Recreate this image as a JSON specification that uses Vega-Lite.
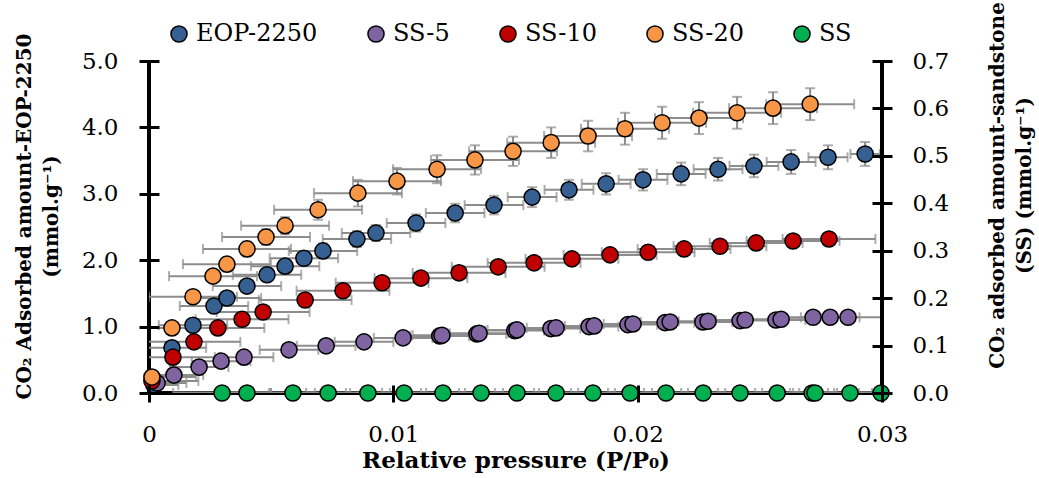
{
  "$schema": "https://vega.github.io/schema/vega-lite/v6.json",
  "width": 733,
  "height": 332,
  "autosize": "none",
  "padding": {"left": 149, "top": 61, "right": 157, "bottom": 85},
  "background": "white",
  "config": {
    "view": {"stroke": null},
    "font": "DejaVu Serif",
    "axis": {
      "labelFont": "DejaVu Serif", "titleFont": "DejaVu Serif",
      "labelFontSize": 23, "labelColor": "black", "titleColor": "black",
      "titleFontSize": 20, "titleFontWeight": "bold",
      "tickColor": "black", "tickWidth": 3, "grid": false, "labelOverlap": false, "labelFlush": false,
      "zindex": 1
    }
  },
  "datasets": {
    "pts": [
      {"s": "EOP-2250", "x": 0.0002, "y": 0.12, "ex": 0.0010, "ey": 0.02},
      {"s": "EOP-2250", "x": 0.00094, "y": 0.68, "ex": 0.0014, "ey": 0.04},
      {"s": "EOP-2250", "x": 0.0018, "y": 1.02, "ex": 0.0014, "ey": 0.05},
      {"s": "EOP-2250", "x": 0.00266, "y": 1.31, "ex": 0.0014, "ey": 0.06},
      {"s": "EOP-2250", "x": 0.00319, "y": 1.43, "ex": 0.0014, "ey": 0.07},
      {"s": "EOP-2250", "x": 0.00401, "y": 1.61, "ex": 0.0014, "ey": 0.08},
      {"s": "EOP-2250", "x": 0.00483, "y": 1.78, "ex": 0.0014, "ey": 0.09},
      {"s": "EOP-2250", "x": 0.00557, "y": 1.91, "ex": 0.0014, "ey": 0.10},
      {"s": "EOP-2250", "x": 0.00634, "y": 2.03, "ex": 0.0014, "ey": 0.10},
      {"s": "EOP-2250", "x": 0.00712, "y": 2.14, "ex": 0.0014, "ey": 0.11},
      {"s": "EOP-2250", "x": 0.00851, "y": 2.32, "ex": 0.0014, "ey": 0.12},
      {"s": "EOP-2250", "x": 0.00929, "y": 2.41, "ex": 0.0014, "ey": 0.12},
      {"s": "EOP-2250", "x": 0.01093, "y": 2.56, "ex": 0.0012, "ey": 0.13},
      {"s": "EOP-2250", "x": 0.01253, "y": 2.71, "ex": 0.0012, "ey": 0.14},
      {"s": "EOP-2250", "x": 0.01412, "y": 2.83, "ex": 0.0012, "ey": 0.14},
      {"s": "EOP-2250", "x": 0.01568, "y": 2.95, "ex": 0.0010, "ey": 0.15},
      {"s": "EOP-2250", "x": 0.01719, "y": 3.06, "ex": 0.0010, "ey": 0.15},
      {"s": "EOP-2250", "x": 0.01871, "y": 3.15, "ex": 0.0010, "ey": 0.16},
      {"s": "EOP-2250", "x": 0.02022, "y": 3.21, "ex": 0.0010, "ey": 0.16},
      {"s": "EOP-2250", "x": 0.02178, "y": 3.30, "ex": 0.0010, "ey": 0.17},
      {"s": "EOP-2250", "x": 0.02329, "y": 3.37, "ex": 0.0010, "ey": 0.17},
      {"s": "EOP-2250", "x": 0.02476, "y": 3.42, "ex": 0.0010, "ey": 0.17},
      {"s": "EOP-2250", "x": 0.02628, "y": 3.48, "ex": 0.0010, "ey": 0.18},
      {"s": "EOP-2250", "x": 0.02779, "y": 3.55, "ex": 0.0008, "ey": 0.18},
      {"s": "EOP-2250", "x": 0.02931, "y": 3.60, "ex": 0.0006, "ey": 0.18},
      {"s": "SS-5", "x": 0.00033, "y": 0.15, "ex": 0.0012, "ey": 0.02},
      {"s": "SS-5", "x": 0.00102, "y": 0.27, "ex": 0.0012, "ey": 0.02},
      {"s": "SS-5", "x": 0.00205, "y": 0.39, "ex": 0.0012, "ey": 0.02},
      {"s": "SS-5", "x": 0.00295, "y": 0.48, "ex": 0.0012, "ey": 0.02},
      {"s": "SS-5", "x": 0.00389, "y": 0.54, "ex": 0.0012, "ey": 0.02},
      {"s": "SS-5", "x": 0.00573, "y": 0.65, "ex": 0.0012, "ey": 0.02},
      {"s": "SS-5", "x": 0.00725, "y": 0.71, "ex": 0.0012, "ey": 0.02},
      {"s": "SS-5", "x": 0.0088, "y": 0.77, "ex": 0.0012, "ey": 0.02},
      {"s": "SS-5", "x": 0.0104, "y": 0.83, "ex": 0.0012, "ey": 0.02},
      {"s": "SS-5", "x": 0.0119, "y": 0.86, "ex": 0.0012, "ey": 0.02},
      {"s": "SS-5", "x": 0.01199, "y": 0.87, "ex": 0.0012, "ey": 0.02},
      {"s": "SS-5", "x": 0.01342, "y": 0.89, "ex": 0.0012, "ey": 0.02},
      {"s": "SS-5", "x": 0.01351, "y": 0.90, "ex": 0.0012, "ey": 0.02},
      {"s": "SS-5", "x": 0.01497, "y": 0.94, "ex": 0.0012, "ey": 0.02},
      {"s": "SS-5", "x": 0.01506, "y": 0.95, "ex": 0.0012, "ey": 0.02},
      {"s": "SS-5", "x": 0.01645, "y": 0.97, "ex": 0.0012, "ey": 0.02},
      {"s": "SS-5", "x": 0.01666, "y": 0.98, "ex": 0.0012, "ey": 0.02},
      {"s": "SS-5", "x": 0.01801, "y": 1.00, "ex": 0.0012, "ey": 0.02},
      {"s": "SS-5", "x": 0.01822, "y": 1.01, "ex": 0.0012, "ey": 0.02},
      {"s": "SS-5", "x": 0.0196, "y": 1.03, "ex": 0.0012, "ey": 0.02},
      {"s": "SS-5", "x": 0.01981, "y": 1.04, "ex": 0.0012, "ey": 0.02},
      {"s": "SS-5", "x": 0.02112, "y": 1.06, "ex": 0.0012, "ey": 0.02},
      {"s": "SS-5", "x": 0.02133, "y": 1.07, "ex": 0.0012, "ey": 0.02},
      {"s": "SS-5", "x": 0.02267, "y": 1.07, "ex": 0.0012, "ey": 0.02},
      {"s": "SS-5", "x": 0.02288, "y": 1.08, "ex": 0.0012, "ey": 0.02},
      {"s": "SS-5", "x": 0.02419, "y": 1.09, "ex": 0.0012, "ey": 0.02},
      {"s": "SS-5", "x": 0.0244, "y": 1.10, "ex": 0.0012, "ey": 0.02},
      {"s": "SS-5", "x": 0.02566, "y": 1.10, "ex": 0.0012, "ey": 0.02},
      {"s": "SS-5", "x": 0.02587, "y": 1.11, "ex": 0.0012, "ey": 0.02},
      {"s": "SS-5", "x": 0.02718, "y": 1.14, "ex": 0.0012, "ey": 0.02},
      {"s": "SS-5", "x": 0.02788, "y": 1.14, "ex": 0.0012, "ey": 0.02},
      {"s": "SS-5", "x": 0.02861, "y": 1.14, "ex": 0.0014, "ey": 0.02},
      {"s": "SS-10", "x": 0.00012, "y": 0.18, "ex": 0.0019, "ey": 0.02},
      {"s": "SS-10", "x": 0.00098, "y": 0.54, "ex": 0.0019, "ey": 0.03},
      {"s": "SS-10", "x": 0.00184, "y": 0.77, "ex": 0.0019, "ey": 0.03},
      {"s": "SS-10", "x": 0.00282, "y": 0.98, "ex": 0.0019, "ey": 0.04},
      {"s": "SS-10", "x": 0.00381, "y": 1.11, "ex": 0.0019, "ey": 0.04},
      {"s": "SS-10", "x": 0.00467, "y": 1.22, "ex": 0.0019, "ey": 0.04},
      {"s": "SS-10", "x": 0.00639, "y": 1.40, "ex": 0.0019, "ey": 0.05},
      {"s": "SS-10", "x": 0.00794, "y": 1.54, "ex": 0.0019, "ey": 0.05},
      {"s": "SS-10", "x": 0.00954, "y": 1.66, "ex": 0.0019, "ey": 0.05},
      {"s": "SS-10", "x": 0.01113, "y": 1.73, "ex": 0.0019, "ey": 0.05},
      {"s": "SS-10", "x": 0.01269, "y": 1.81, "ex": 0.0019, "ey": 0.05},
      {"s": "SS-10", "x": 0.01429, "y": 1.90, "ex": 0.0019, "ey": 0.05},
      {"s": "SS-10", "x": 0.01576, "y": 1.96, "ex": 0.0019, "ey": 0.05},
      {"s": "SS-10", "x": 0.01731, "y": 2.02, "ex": 0.0019, "ey": 0.05},
      {"s": "SS-10", "x": 0.01887, "y": 2.08, "ex": 0.0019, "ey": 0.05},
      {"s": "SS-10", "x": 0.02043, "y": 2.12, "ex": 0.0019, "ey": 0.05},
      {"s": "SS-10", "x": 0.0219, "y": 2.17, "ex": 0.0019, "ey": 0.05},
      {"s": "SS-10", "x": 0.02337, "y": 2.21, "ex": 0.0019, "ey": 0.05},
      {"s": "SS-10", "x": 0.02485, "y": 2.26, "ex": 0.0019, "ey": 0.05},
      {"s": "SS-10", "x": 0.02636, "y": 2.29, "ex": 0.0019, "ey": 0.05},
      {"s": "SS-10", "x": 0.02783, "y": 2.32, "ex": 0.0019, "ey": 0.05},
      {"s": "SS-20", "x": 0.00012, "y": 0.24, "ex": 0.0018, "ey": 0.03},
      {"s": "SS-20", "x": 0.00094, "y": 0.98, "ex": 0.0018, "ey": 0.05},
      {"s": "SS-20", "x": 0.0018, "y": 1.45, "ex": 0.0018, "ey": 0.08},
      {"s": "SS-20", "x": 0.00262, "y": 1.76, "ex": 0.0018, "ey": 0.09},
      {"s": "SS-20", "x": 0.00319, "y": 1.94, "ex": 0.0018, "ey": 0.10},
      {"s": "SS-20", "x": 0.00401, "y": 2.17, "ex": 0.0018, "ey": 0.11},
      {"s": "SS-20", "x": 0.00479, "y": 2.35, "ex": 0.0018, "ey": 0.12},
      {"s": "SS-20", "x": 0.00557, "y": 2.52, "ex": 0.0018, "ey": 0.13},
      {"s": "SS-20", "x": 0.00692, "y": 2.76, "ex": 0.0018, "ey": 0.15},
      {"s": "SS-20", "x": 0.00855, "y": 3.01, "ex": 0.0018, "ey": 0.20},
      {"s": "SS-20", "x": 0.01015, "y": 3.19, "ex": 0.0018, "ey": 0.20},
      {"s": "SS-20", "x": 0.01179, "y": 3.37, "ex": 0.0018, "ey": 0.21},
      {"s": "SS-20", "x": 0.01334, "y": 3.51, "ex": 0.0018, "ey": 0.22},
      {"s": "SS-20", "x": 0.0149, "y": 3.64, "ex": 0.0018, "ey": 0.22},
      {"s": "SS-20", "x": 0.01646, "y": 3.77, "ex": 0.0018, "ey": 0.23},
      {"s": "SS-20", "x": 0.01797, "y": 3.87, "ex": 0.0018, "ey": 0.23},
      {"s": "SS-20", "x": 0.01948, "y": 3.98, "ex": 0.0018, "ey": 0.24},
      {"s": "SS-20", "x": 0.021, "y": 4.07, "ex": 0.0018, "ey": 0.24},
      {"s": "SS-20", "x": 0.02251, "y": 4.14, "ex": 0.0018, "ey": 0.24},
      {"s": "SS-20", "x": 0.02407, "y": 4.22, "ex": 0.0018, "ey": 0.24},
      {"s": "SS-20", "x": 0.02554, "y": 4.29, "ex": 0.0018, "ey": 0.24},
      {"s": "SS-20", "x": 0.02706, "y": 4.35, "ex": 0.0018, "ey": 0.24},
      {"s": "SS", "x": 0.00299, "y": 0, "ex": 0.002, "ey": 0},
      {"s": "SS", "x": 0.00401, "y": 0, "ex": 0.0009, "ey": 0},
      {"s": "SS", "x": 0.00589, "y": 0, "ex": 0.0009, "ey": 0},
      {"s": "SS", "x": 0.00733, "y": 0, "ex": 0.0009, "ey": 0},
      {"s": "SS", "x": 0.00896, "y": 0, "ex": 0.0009, "ey": 0},
      {"s": "SS", "x": 0.01044, "y": 0, "ex": 0.0009, "ey": 0},
      {"s": "SS", "x": 0.01203, "y": 0, "ex": 0.0009, "ey": 0},
      {"s": "SS", "x": 0.01359, "y": 0, "ex": 0.0009, "ey": 0},
      {"s": "SS", "x": 0.01506, "y": 0, "ex": 0.0009, "ey": 0},
      {"s": "SS", "x": 0.01666, "y": 0, "ex": 0.0009, "ey": 0},
      {"s": "SS", "x": 0.01817, "y": 0, "ex": 0.0009, "ey": 0},
      {"s": "SS", "x": 0.01969, "y": 0, "ex": 0.0009, "ey": 0},
      {"s": "SS", "x": 0.02116, "y": 0, "ex": 0.0009, "ey": 0},
      {"s": "SS", "x": 0.02268, "y": 0, "ex": 0.0009, "ey": 0},
      {"s": "SS", "x": 0.02419, "y": 0, "ex": 0.0009, "ey": 0},
      {"s": "SS", "x": 0.02571, "y": 0, "ex": 0.0009, "ey": 0},
      {"s": "SS", "x": 0.02714, "y": 0, "ex": 0.0009, "ey": 0},
      {"s": "SS", "x": 0.02726, "y": 0, "ex": 0.0009, "ey": 0},
      {"s": "SS", "x": 0.02869, "y": 0, "ex": 0.0009, "ey": 0},
      {"s": "SS", "x": 0.02996, "y": 0, "ex": 0.0009, "ey": 0}
    ]
  },
  "data": {"name": "pts"},
  "layer": [
    {
      "transform": [{"filter": "datum.s != 'SS'"}],
      "layer": [
        {
          "mark": {"type": "rule", "color": "black", "strokeWidth": 3},
          "encoding": {"x": {"datum": 0, "type": "quantitative", "title": "Relative pressure (P/P₀)"}}
        },
        {
          "mark": {"type": "rule", "color": "black", "strokeWidth": 3},
          "encoding": {"y": {"datum": 0, "type": "quantitative", "title": ["CO₂ Adsorbed amount-EOP-2250", "(mmol.g⁻¹)"]}}
        },
        {
          "mark": {"type": "errorbar", "ticks": {"size": 10, "thickness": 2}, "thickness": 2, "color": "#8c8c8c", "clip": true},
          "encoding": {
            "x": {"field": "x", "type": "quantitative", "title": "Relative pressure (P/P₀)"},
            "xError": {"field": "ex"},
            "y": {"field": "y", "type": "quantitative", "title": ["CO₂ Adsorbed amount-EOP-2250", "(mmol.g⁻¹)"]}
          }
        },
        {
          "mark": {"type": "errorbar", "ticks": {"size": 10, "thickness": 2}, "thickness": 2, "color": "#8c8c8c", "clip": true},
          "encoding": {
            "y": {"field": "y", "type": "quantitative", "title": ["CO₂ Adsorbed amount-EOP-2250", "(mmol.g⁻¹)"]},
            "yError": {"field": "ey"},
            "x": {"field": "x", "type": "quantitative", "title": "Relative pressure (P/P₀)"}
          }
        },
        {
          "mark": {"type": "circle", "size": 260, "stroke": "black", "strokeWidth": 1.5, "opacity": 1},
          "encoding": {
            "x": {
              "field": "x", "type": "quantitative",
              "title": "Relative pressure (P/P₀)",
              "scale": {"domain": [0, 0.03], "nice": false, "zero": false},
              "axis": {
                "values": [0, 0.01, 0.02, 0.03],
                "labelExpr": "datum.value == 0 ? '0' : format(datum.value, '.2f')",
                "domain": false, "offset": -8, "tickSize": 17, "labelPadding": 21,
                "titleFontSize": 23, "titlePadding": 3, "zindex": 1
              }
            },
            "y": {
              "field": "y", "type": "quantitative",
              "title": ["CO₂ Adsorbed amount-EOP-2250", "(mmol.g⁻¹)"],
              "scale": {"domain": [0, 5], "nice": false},
              "axis": {
                "values": [0, 1, 2, 3, 4, 5], "format": ".1f",
                "domain": false, "offset": -10, "tickSize": 20, "labelPadding": 21,
                "titleLineHeight": 27, "titleY": 155, "titlePadding": 20, "zindex": 1
              }
            },
            "color": {
              "field": "s", "type": "nominal",
              "scale": {
                "domain": ["EOP-2250", "SS-5", "SS-10", "SS-20", "SS"],
                "range": ["#376092", "#8064A2", "#C00000", "#F79646", "#00B050"]
              },
              "legend": {
                "orient": "none", "legendX": 18, "legendY": -39, "direction": "horizontal",
                "title": null, "labelFontSize": 24, "labelFont": "DejaVu Serif", "labelColor": "black",
                "symbolType": "circle", "symbolSize": 260, "symbolStrokeColor": "black",
                "symbolStrokeWidth": 1.5, "symbolOpacity": 1, "columnPadding": 46, "labelOffset": 5,
                "labelLimit": 300
              }
            }
          }
        }
      ]
    },
    {
      "transform": [{"filter": "datum.s == 'SS'"}],
      "layer": [
        {
          "mark": {"type": "rule", "color": "black", "strokeWidth": 3},
          "encoding": {"x": {"datum": 0.03, "type": "quantitative", "title": "Relative pressure (P/P₀)"}}
        },
        {
          "mark": {"type": "errorbar", "ticks": {"size": 10, "thickness": 2}, "thickness": 3, "color": "#8c8c8c", "clip": true},
          "encoding": {
            "x": {"field": "x", "type": "quantitative", "title": "Relative pressure (P/P₀)"},
            "xError": {"field": "ex"},
            "y": {"field": "y", "type": "quantitative", "title": ["CO₂ adsorbed amount-sandstone", "(SS) (mmol.g⁻¹)"]}
          }
        },
        {
          "mark": {"type": "circle", "size": 260, "stroke": "black", "strokeWidth": 1.5, "opacity": 1},
          "encoding": {
            "x": {"field": "x", "type": "quantitative", "title": "Relative pressure (P/P₀)"},
            "y": {
              "field": "y", "type": "quantitative",
              "title": ["CO₂ adsorbed amount-sandstone", "(SS) (mmol.g⁻¹)"],
              "scale": {"domain": [0, 0.7], "nice": false},
              "axis": {
                "orient": "right",
                "values": [0, 0.1, 0.2, 0.3, 0.4, 0.5, 0.6, 0.7], "format": ".1f",
                "domain": false, "offset": -10, "tickSize": 20, "labelPadding": 20,
                "titleAngle": -90, "titleBaseline": "top", "titleLineHeight": 27,
                "titleY": 124, "titlePadding": 12, "zindex": 1
              }
            },
            "color": {"field": "s", "type": "nominal"}
          }
        }
      ]
    }
  ],
  "resolve": {"scale": {"y": "independent"}}
}
